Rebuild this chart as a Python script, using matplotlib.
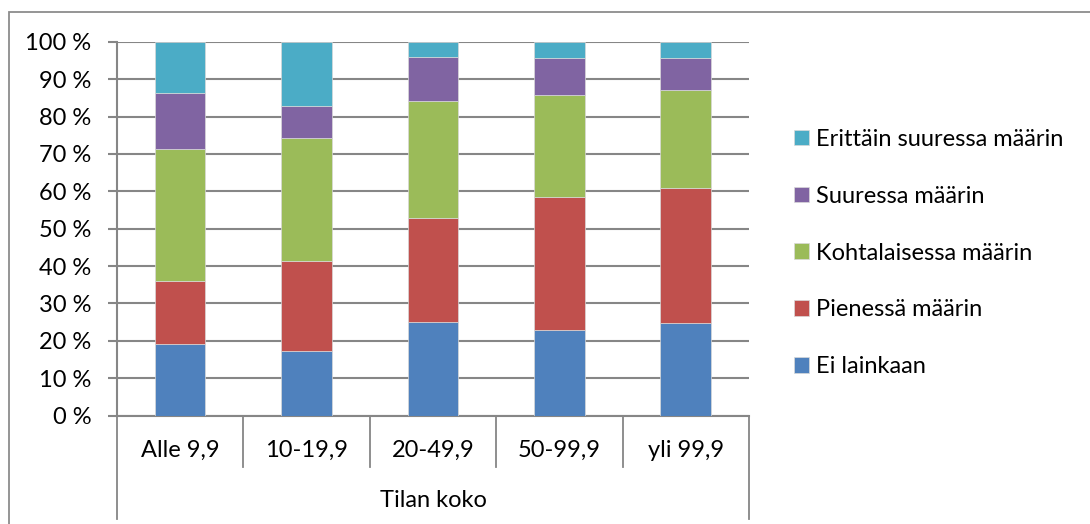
import matplotlib
matplotlib.use("Agg")
from matplotlib import pyplot as plt
from matplotlib.patches import Rectangle
from matplotlib.lines import Line2D
import matplotlib.transforms as mtrans
import numpy as np

plt.rcParams['font.family'] = ['Lato', 'DejaVu Sans']

categories = ['Alle 9,9', '10-19,9', '20-49,9', '50-99,9', 'yli 99,9']
series_names = ['Ei lainkaan', 'Pienessä määrin', 'Kohtalaisessa määrin',
                'Suuressa määrin', 'Erittäin suuressa määrin']
ei_lainkaan = [19.2, 17.3, 25.1, 22.9, 24.7]
pienessa = [16.9, 24.1, 27.8, 35.7, 36.2]
kohtalaisessa = [35.2, 32.8, 31.2, 27.1, 26.1]
suuressa = [14.9, 8.6, 11.9, 10.0, 8.7]
erittain = [13.8, 17.2, 4.0, 4.3, 4.3]
colors = ['#4F81BD', '#C0504D', '#9BBB59', '#8064A2', '#4BACC6']
axis_title = 'Tilan koko'

grid_col = '#868686'
fs = 17

fig = plt.figure(figsize=(10.9, 5.24), dpi=100)
ax = fig.add_axes([0.1073, 0.2067, 0.5798, 0.7137])

x = np.arange(len(categories))
bottom = np.zeros(len(categories))
handles = []
for name, vals, col in zip(series_names,
                           [ei_lainkaan, pienessa, kohtalaisessa, suuressa, erittain],
                           colors):
    b = ax.bar(x, vals, 0.4, bottom=bottom, color=col, edgecolor='#d9d9d9',
               linewidth=0.5, label=name, zorder=3)
    bottom += np.array(vals)
    handles.append(b)

ax.set_xlim(-0.5, len(categories) - 0.5)
ax.set_ylim(0, 100)
ax.set_yticks(np.arange(0, 101, 10))
ax.set_yticklabels([f'{v} %' for v in range(0, 101, 10)], fontsize=fs)
ax.yaxis.grid(True, color=grid_col, linewidth=1.5, zorder=0)
ax.tick_params(axis='y', length=6.5, width=1.5, color=grid_col, pad=12)
ax.set_xticks([])
for s in ['top', 'right']:
    ax.spines[s].set_visible(False)
for s in ['left', 'bottom']:
    ax.spines[s].set_color(grid_col)
    ax.spines[s].set_linewidth(1.5)

# category separators below the axis
tr = mtrans.blended_transform_factory(ax.transData, ax.transAxes)
for i in range(len(categories) + 1):
    xb = i - 0.5
    low = -0.275 if i in (0, len(categories)) else -0.136
    ax.add_line(Line2D([xb, xb], [0, low], transform=tr, color=grid_col,
                       linewidth=1.3, clip_on=False))
for i, c in enumerate(categories):
    ax.text(i, -0.092, c, transform=tr, ha='center', va='center', fontsize=fs)
ax.text(0.5, -0.228, axis_title, transform=ax.transAxes, ha='center',
        va='center', fontsize=fs)

# chart frame
fig.add_artist(Rectangle((9 / 1090, -0.1), 1.2, 1.1 - 12 / 524,
                         transform=fig.transFigure, fill=False,
                         edgecolor='#8c8c8c', linewidth=1.3))

leg = fig.legend(handles[::-1], series_names[::-1], loc='center left',
                 bbox_to_anchor=(0.7285, 0.517), frameon=False, fontsize=fs,
                 handlelength=0.65, handleheight=0.65, handletextpad=0.3,
                 labelspacing=1.52, borderpad=0, borderaxespad=0)

fig.savefig('out.png', dpi=100)
